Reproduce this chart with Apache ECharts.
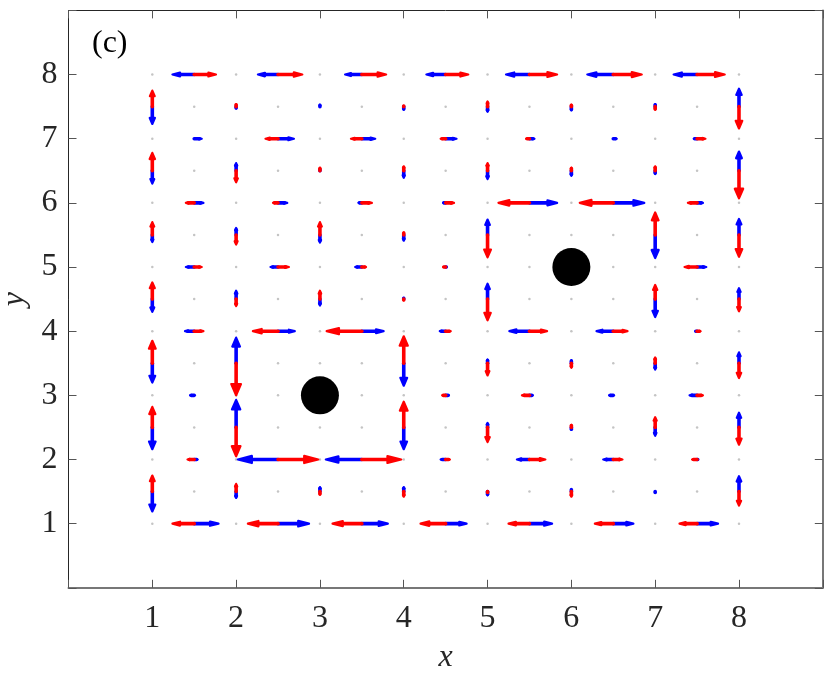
<!DOCTYPE html>
<html><head><meta charset="utf-8">
<script src="https://cdn.jsdelivr.net/npm/echarts@6/dist/echarts.min.js"></script>
<style>html,body{margin:0;padding:0;background:#fff}#c{width:830px;height:677px}</style>
</head><body><div id="c"></div><script>
// lattice positions
const latticeHalf = [1, 1.5, 2, 2.5, 3, 3.5, 4, 4.5, 5, 5.5, 6, 6.5, 7, 7.5, 8];
const hx = [1.5, 2.5, 3.5, 4.5, 5.5, 6.5, 7.5];   // horizontal bond centres (x)
const hy = [1, 2, 3, 4, 5, 6, 7, 8];              // horizontal bond rows (y)
const vx = [1, 2, 3, 4, 5, 6, 7, 8];              // vertical bond columns (x)
const vy = [1.5, 2.5, 3.5, 4.5, 5.5, 6.5, 7.5];   // vertical bond centres (y)
const tickValues = [1, 2, 3, 4, 5, 6, 7, 8];
const obstacles = [[3, 3], [6, 5]];

// horizontal bonds: rows y=1..8, values for x=1.5..7.5 (x-component)
const hRed = [
  [-0.26, -0.36, -0.35, -0.30, -0.25, -0.22, -0.21],
  [-0.08,  0.48,  0.47,  0.05,  0.19,  0.11, -0.06],
  [ 0.00,  0.00,  0.00, -0.04, -0.09,  0.00,  0.07],
  [ 0.11, -0.30, -0.42,  0.06,  0.21,  0.17,  0.04],
  [ 0.09,  0.13,  0.05, -0.03,  0.00,  0.00, -0.15],
  [-0.10, -0.06,  0.12,  0.10, -0.37, -0.40, -0.11],
  [ 0.00, -0.15, -0.13, -0.06, -0.04,  0.00,  0.10],
  [ 0.26,  0.29,  0.29,  0.27,  0.33,  0.34,  0.33]
];
const hBlue = [
  [ 0.29,  0.37,  0.31,  0.25,  0.27,  0.24,  0.25],
  [ 0.04, -0.48, -0.43, -0.06, -0.15, -0.12,  0.01],
  [-0.05,  0.00,  0.00,  0.04,  0.04, -0.05, -0.09],
  [-0.11,  0.20,  0.26, -0.07, -0.24, -0.20, -0.02],
  [-0.10, -0.09, -0.08,  0.01,  0.00,  0.00,  0.11],
  [ 0.11,  0.11, -0.04, -0.03,  0.33,  0.37,  0.07],
  [ 0.09,  0.19,  0.16,  0.13,  0.06,  0.04, -0.04],
  [-0.26, -0.24, -0.20, -0.23, -0.28, -0.31, -0.28]
];
// vertical bonds: columns x=1..8, values for y=1.5..7.5 (y-component)
const vRed = [
  [ 0.25,  0.32,  0.35,  0.26,  0.20,  0.28,  0.25],
  [ 0.12, -0.45, -0.50, -0.11, -0.15, -0.18,  0.04],
  [-0.05,  0.00,  0.00,  0.13,  0.20,  0.05,  0.00],
  [-0.08,  0.40,  0.42, -0.02,  0.04,  0.07,  0.01],
  [-0.02, -0.23, -0.19, -0.33, -0.35,  0.12,  0.08],
  [-0.08,  0.04, -0.07,  0.00,  0.00,  0.05,  0.03],
  [ 0.00,  0.16,  0.09,  0.22,  0.35,  0.07, -0.05],
  [-0.22, -0.27, -0.23, -0.19, -0.34, -0.43, -0.34]
];
const vBlue = [
  [-0.31, -0.34, -0.30, -0.20, -0.11, -0.20, -0.27],
  [-0.10,  0.43,  0.40,  0.13,  0.11,  0.12, -0.03],
  [ 0.07,  0.00,  0.00, -0.10, -0.12,  0.02,  0.03],
  [ 0.07, -0.34, -0.35,  0.02, -0.09, -0.11, -0.05],
  [-0.06,  0.07,  0.06,  0.24,  0.24, -0.13, -0.08],
  [ 0.04, -0.04,  0.05,  0.00,  0.00, -0.08, -0.06],
  [-0.02, -0.13, -0.10, -0.28, -0.36, -0.05,  0.04],
  [ 0.24,  0.23,  0.17,  0.17,  0.25,  0.30,  0.28]
];

function buildArrows(hVals, vVals) {
  const out = [];
  hy.forEach((y, j) => hx.forEach((x, i) => out.push([x, y, hVals[j][i], 0])));
  vx.forEach((x, i) => vy.forEach((y, j) => out.push([x, y, 0, vVals[i][j]])));
  return out;
}
const dots = [];
latticeHalf.forEach(x => latticeHalf.forEach(y => dots.push([x, y])));

function renderArrow(params, api) {
  const x = api.value(0), y = api.value(1), u = api.value(2), v = api.value(3);
  if (u === 0 && v === 0) return null;
  const color = api.visual('color');
  const a = 0.35, b = 0.33;
  const p0 = api.coord([x, y]);
  const tip = api.coord([x + u, y + v]);
  const base = api.coord([x + u - a * u * 0.8, y + v - a * v * 0.8]);
  const hA = api.coord([x + u - a * (u + b * v), y + v - a * (v - b * u)]);
  const hB = api.coord([x + u - a * (u - b * v), y + v - a * (v + b * u)]);
  return {
    type: 'group',
    children: [
      { type: 'line', shape: { x1: p0[0], y1: p0[1], x2: base[0], y2: base[1] },
        style: { stroke: color, lineWidth: 3.6, lineCap: 'round' } },
      { type: 'polygon', shape: { points: [hA, tip, hB] },
        style: { fill: color, stroke: color, lineWidth: 2.2, lineJoin: 'round' } }
    ]
  };
}

const serif = 'Liberation Serif';
const axisCommon = {
  type: 'value', min: 0, max: 9, interval: 1,
  splitLine: { show: false },
  axisTick: { inside: true, length: 8, lineStyle: { color: '#555', width: 1 } }
};
const lblFmt = v => (tickValues.indexOf(v) >= 0 ? String(v) : '');

const chart = echarts.init(document.getElementById('c'), null, { renderer: 'canvas' });
chart.setOption({
  animation: false,
  backgroundColor: '#fff',
  grid: { left: 68.5, top: 10.4, right: 7.2, bottom: 89.2, containLabel: false, outerBoundsMode: 'none' },
  xAxis: [
    Object.assign({}, axisCommon, {
      position: 'bottom',
      axisLine: { show: true, onZero: false, lineStyle: { color: '#777', width: 2 } },
      axisLabel: { formatter: lblFmt, fontFamily: serif, fontSize: 32, color: '#262626', margin: 15 },
      name: 'x', nameLocation: 'middle', nameGap: 54,
      nameTextStyle: { fontFamily: serif, fontStyle: 'italic', fontSize: 32, color: '#262626' }
    }),
    Object.assign({}, axisCommon, {
      position: 'top',
      axisLine: { show: true, onZero: false, lineStyle: { color: '#262626', width: 1 } },
      axisLabel: { show: false }
    })
  ],
  yAxis: [
    Object.assign({}, axisCommon, {
      position: 'left',
      axisLine: { show: true, onZero: false, lineStyle: { color: '#262626', width: 1 } },
      axisLabel: { formatter: lblFmt, fontFamily: serif, fontSize: 32, color: '#262626', margin: 11 },
      name: 'y', nameLocation: 'middle', nameGap: 32,
      nameTextStyle: { fontFamily: serif, fontStyle: 'italic', fontSize: 32, color: '#262626' }
    }),
    Object.assign({}, axisCommon, {
      position: 'right',
      axisLine: { show: true, onZero: false, lineStyle: { color: '#777', width: 2 } },
      axisLabel: { show: false }
    })
  ],
  graphic: [{
    type: 'text', left: 92, top: 28,
    style: { text: '(c)', fontFamily: serif, fontSize: 32, fill: '#000' }
  }],
  series: [
    { type: 'scatter', data: dots, symbolSize: 2.5, itemStyle: { color: '#c4c4c4', opacity: 1 }, silent: true, z: 1 },
    { type: 'custom', name: 'blue', data: buildArrows(hBlue, vBlue), renderItem: renderArrow,
      encode: { x: 0, y: 1 }, itemStyle: { color: '#0000ff' }, z: 2 },
    { type: 'custom', name: 'red', data: buildArrows(hRed, vRed), renderItem: renderArrow,
      encode: { x: 0, y: 1 }, itemStyle: { color: '#ff0000' }, z: 3 },
    { type: 'scatter', data: obstacles, symbolSize: 38, itemStyle: { color: '#000', opacity: 1 }, z: 4 }
  ]
});
</script></body></html>
